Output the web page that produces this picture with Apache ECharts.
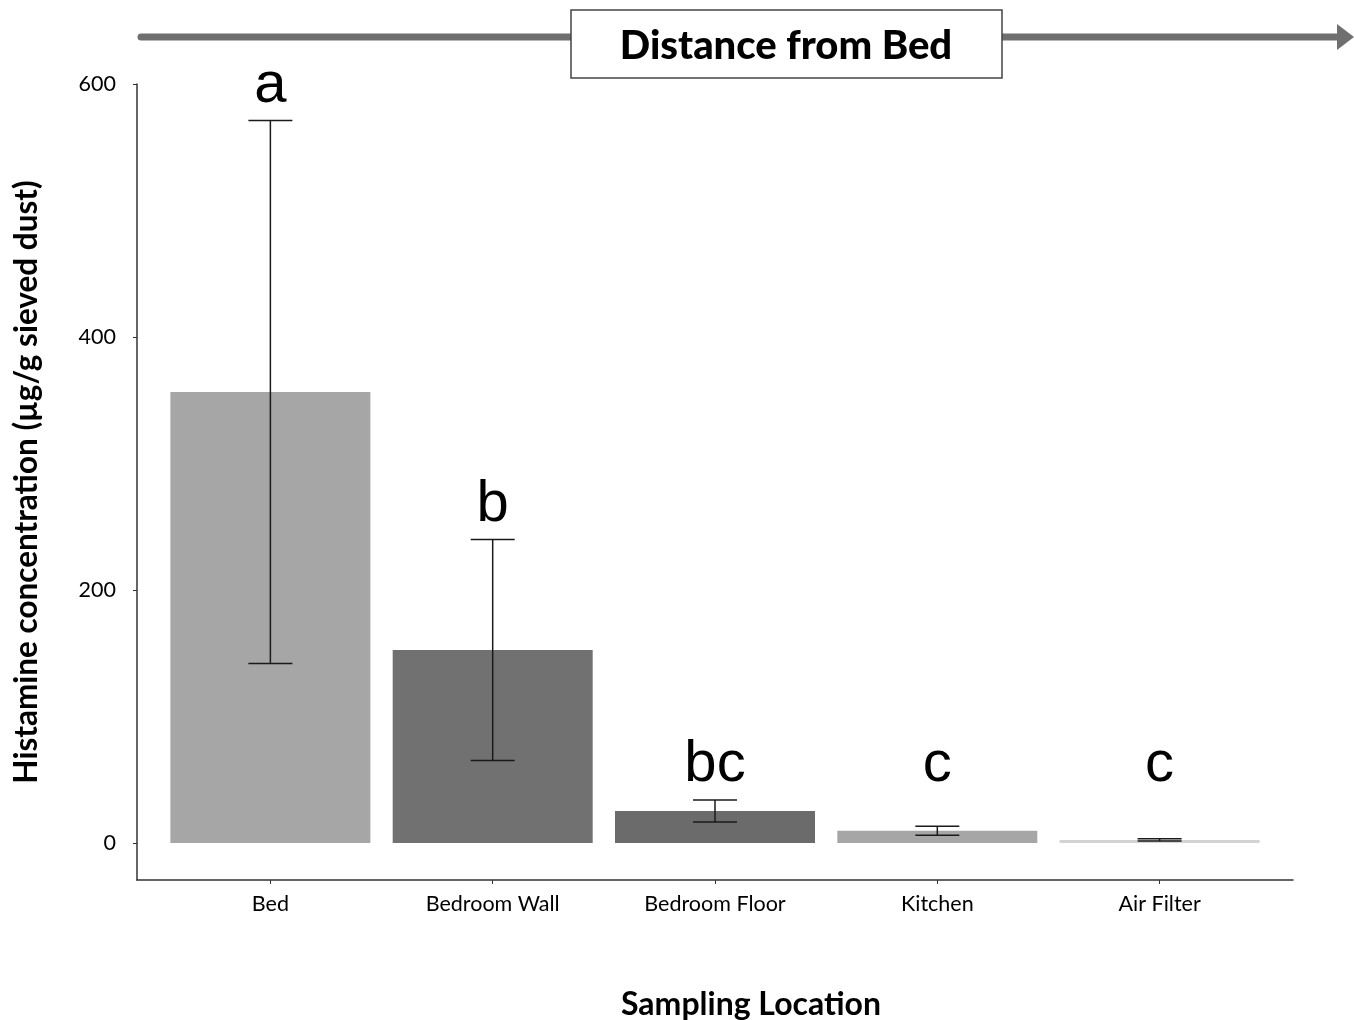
<!DOCTYPE html>
<html>
<head>
<meta charset="utf-8">
<script src="https://cdn.jsdelivr.net/npm/echarts@6/dist/echarts.min.js"></script>
<style>
html,body{margin:0;padding:0;background:#fff;}
#chart{width:1354px;height:1020px;}
</style>
</head>
<body>
<div id="chart"></div>
<script>
// ---- data ----
const categories = ['Bed', 'Bedroom Wall', 'Bedroom Floor', 'Kitchen', 'Air Filter'];
const means = [356.5, 152.6, 25.3, 9.7, 2.4];
const errors = [214.6, 87.3, 8.7, 3.6, 0.9];
const letters = ['a', 'b', 'bc', 'c', 'c'];
const yTicks = [0, 200, 400, 600];

// ---- styles ----
const barColors = ['#a6a6a6', '#717171', '#6b6b6b', '#a6a6a6', '#d3d3d3'];
const letterFloor = 34; // letters never sit below this data level

const chart = echarts.init(document.getElementById('chart'));
const idx = categories.map((_, i) => i);

chart.setOption({
  animation: false,
  grid: { left: 137, right: 61, top: 84, bottom: 140, containLabel: false },
  xAxis: {
    type: 'value',
    min: -0.6,
    max: 4.6,
    splitLine: { show: false },
    axisLine: { show: true, onZero: false, lineStyle: { color: '#333', width: 1.5 } },
    axisTick: { show: true, length: 4, customValues: idx, lineStyle: { color: '#333' } },
    axisLabel: {
      customValues: idx,
      formatter: v => categories[Math.round(v)] || '',
      color: '#000', fontFamily: 'Lato', fontSize: 21.5, margin: 13
    }
  },
  yAxis: {
    type: 'value',
    min: -29.25,
    max: 600,
    splitLine: { show: false },
    axisLine: { show: true, onZero: false, lineStyle: { color: '#333', width: 1.5 } },
    axisTick: { show: true, length: 4, customValues: yTicks, lineStyle: { color: '#333' } },
    axisLabel: { customValues: yTicks, color: '#000', fontFamily: 'Lato', fontSize: 21.5, margin: 21 },
    name: 'Histamine concentration (µg/g sieved dust)',
    nameLocation: 'middle',
    nameGap: 94,
    nameTextStyle: { color: '#000', fontFamily: 'Lato', fontWeight: 'bold', fontSize: 31.5 }
  },
  series: [
    {
      type: 'bar',
      barWidth: 200,
      data: means.map((m, i) => ({ value: [i, m], itemStyle: { color: barColors[i] } }))
    },
    {
      type: 'custom',
      data: means.map((m, i) => [i, m - errors[i], m + errors[i]]),
      renderItem: (params, api) => {
        const x = api.value(0);
        const lo = api.coord([x, api.value(1)]);
        const hi = api.coord([x, api.value(2)]);
        const half = 22;
        const st = { stroke: '#1a1a1a', lineWidth: 1.5 };
        return {
          type: 'group',
          children: [
            { type: 'line', shape: { x1: lo[0], y1: lo[1], x2: hi[0], y2: hi[1] }, style: st },
            { type: 'line', shape: { x1: lo[0] - half, y1: lo[1], x2: lo[0] + half, y2: lo[1] }, style: st },
            { type: 'line', shape: { x1: hi[0] - half, y1: hi[1], x2: hi[0] + half, y2: hi[1] }, style: st }
          ]
        };
      },
      z: 5
    },
    {
      type: 'custom',
      data: means.map((m, i) => [i, Math.max(m + errors[i], letterFloor)]),
      renderItem: (params, api) => {
        const p = api.coord([api.value(0), api.value(1)]);
        return {
          type: 'text',
          style: {
            x: p[0], y: p[1] - 6,
            text: letters[params.dataIndex],
            fill: '#000',
            font: '58px "Liberation Sans", Arial, sans-serif',
            align: 'center', verticalAlign: 'bottom'
          }
        };
      },
      z: 6
    }
  ],
  graphic: [
    { type: 'line', shape: { x1: 141, y1: 37, x2: 1340, y2: 37 }, style: { stroke: '#6f6f6f', lineWidth: 7, lineCap: 'round' } },
    { type: 'polygon', shape: { points: [[1337, 24], [1354, 37], [1337, 50]] }, style: { fill: '#6f6f6f' } },
    { type: 'rect', shape: { x: 571, y: 10, width: 431, height: 68 }, style: { fill: '#fff', stroke: '#444', lineWidth: 1.5 } },
    { type: 'text', style: { x: 786, y: 46, text: 'Distance from Bed', fill: '#000', font: '900 40px Lato, sans-serif', align: 'center', verticalAlign: 'middle' } },
    { type: 'text', style: { x: 751, y: 1005, text: 'Sampling Location', fill: '#000', font: 'bold 32px Lato, sans-serif', align: 'center', verticalAlign: 'middle' } }
  ]
});
</script>
</body>
</html>
